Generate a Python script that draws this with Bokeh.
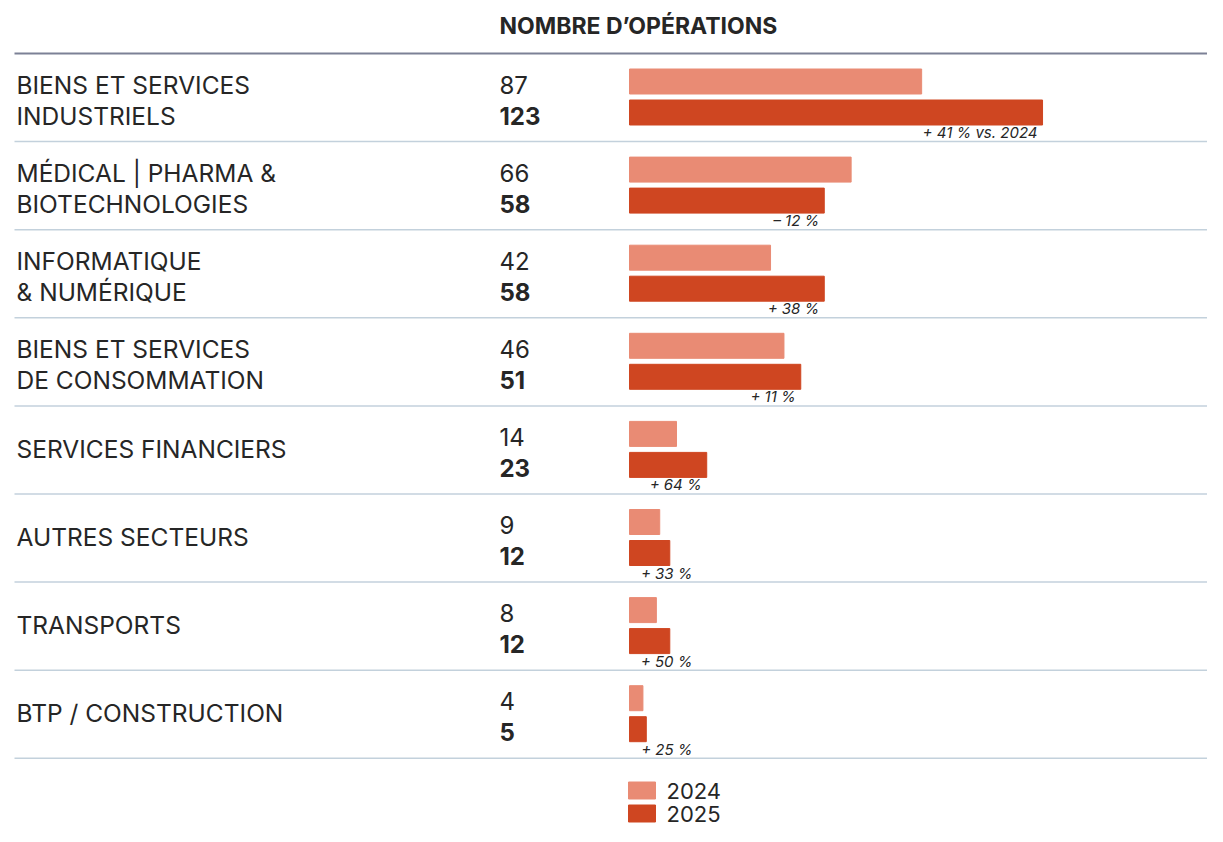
from bokeh.plotting import figure
from bokeh.models import Range1d, ColumnDataSource
from bokeh.core.properties import value
from bokeh.embed import file_html
from bokeh.resources import INLINE

# ---------------- data ----------------
categories = [
    "BIENS ET SERVICES\nINDUSTRIELS",
    "MÉDICAL | PHARMA &\nBIOTECHNOLOGIES",
    "INFORMATIQUE\n& NUMÉRIQUE",
    "BIENS ET SERVICES\nDE CONSOMMATION",
    "SERVICES FINANCIERS",
    "AUTRES SECTEURS",
    "TRANSPORTS",
    "BTP / CONSTRUCTION",
]
ops_2024 = [87, 66, 42, 46, 14, 9, 8, 4]
ops_2025 = [123, 58, 58, 51, 23, 12, 12, 5]
series_names = ["2024", "2025"]
title_text = "NOMBRE D’OPÉRATIONS"

# ---------------- styling ----------------
W, H = 1207, 826
C24 = "#E98B74"
C25 = "#CF4621"
TXT = "#262626"
FONT = "Inter"
PX_PER_UNIT = 3.358
ZERO_PX = 629          # picture x of value 0
ROW0 = 53
ROW_H = 88.1

x_start = -ZERO_PX / PX_PER_UNIT
x_end = x_start + W / PX_PER_UNIT

p = figure(width=W, height=H, output_backend="svg", toolbar_location=None,
           x_range=Range1d(x_start, x_end), y_range=Range1d(H, 0),
           min_border=0, outline_line_color=None)
p.extra_x_ranges = {"px": Range1d(0, W)}
p.axis.visible = False
p.grid.visible = False
p.background_fill_color = "white"
p.border_fill_color = "white"

n = len(categories)
tops = [ROW0 + ROW_H * i for i in range(n)]

# separators
p.segment(x0=[14], x1=[W], y0=[ROW0], y1=[ROW0], line_color="#7C8196",
          line_width=2, x_range_name="px")
p.segment(x0=[14] * n, x1=[W] * n, y0=[t + ROW_H for t in tops],
          y1=[t + ROW_H for t in tops], line_color="#C3D1DC", line_width=1.5,
          x_range_name="px")

# bars
src = ColumnDataSource(dict(
    y24=[t + 28 for t in tops], y25=[t + 59 for t in tops],
    v24=ops_2024, v25=ops_2025))
p.hbar(y="y24", left=0, right="v24", height=25, color=C24, source=src)
p.hbar(y="y25", left=0, right="v25", height=25, color=C25, source=src)

# category labels
lx, ly, lt = [], [], []
for t, c in zip(tops, categories):
    lines = c.split("\n")
    if len(lines) == 2:
        lx += [16, 16]; ly += [t + 31, t + 62]; lt += lines
    else:
        lx.append(16); ly.append(t + 43); lt.append(lines[0])
p.text(x=lx, y=ly, text=lt, x_range_name="px", text_font=value(FONT),
       text_font_size="24.5px", text_color=TXT, text_baseline="middle")

# numbers
p.text(x=[499] * n, y=[t + 31 for t in tops], text=[str(v) for v in ops_2024],
       x_range_name="px", text_font=value(FONT), text_font_size="24px",
       text_color=TXT, text_baseline="middle")
p.text(x=[499] * n, y=[t + 62 for t in tops], text=[str(v) for v in ops_2025],
       x_range_name="px", text_font=value(FONT), text_font_size="24px",
       text_font_style="bold", text_color=TXT, text_baseline="middle")

# percentage change labels
pct_txt, pct_x = [], []
for i, (a, b) in enumerate(zip(ops_2024, ops_2025)):
    ch = round((b - a) / a * 100)
    s = ("+ " if ch >= 0 else "– ") + f"{abs(ch)} %"
    if i == 0:
        s += " vs. 2024"
    pct_txt.append(s)
    end_px = max(b * PX_PER_UNIT - 5, 63)
    pct_x.append(end_px / PX_PER_UNIT)
p.text(x=pct_x, y=[t + 79 for t in tops], text=pct_txt, text_font=value(FONT),
       text_font_size="15px", text_font_style="italic", text_color=TXT,
       text_align="right", text_baseline="middle")

# title
p.text(x=[499], y=[25], text=[title_text], x_range_name="px",
       text_font=value(FONT), text_font_size="23px", text_font_style="bold",
       text_color=TXT, text_baseline="middle")

# legend
p.rect(x=[641.5, 641.5], y=[790, 813], width=27, height=17,
       color=[C24, C25], x_range_name="px")
p.text(x=[666, 666], y=[790, 813], text=series_names, x_range_name="px",
       text_font=value(FONT), text_font_size="22px", text_color=TXT,
       text_baseline="middle")

open("out.html", "w").write(file_html(p, INLINE))
